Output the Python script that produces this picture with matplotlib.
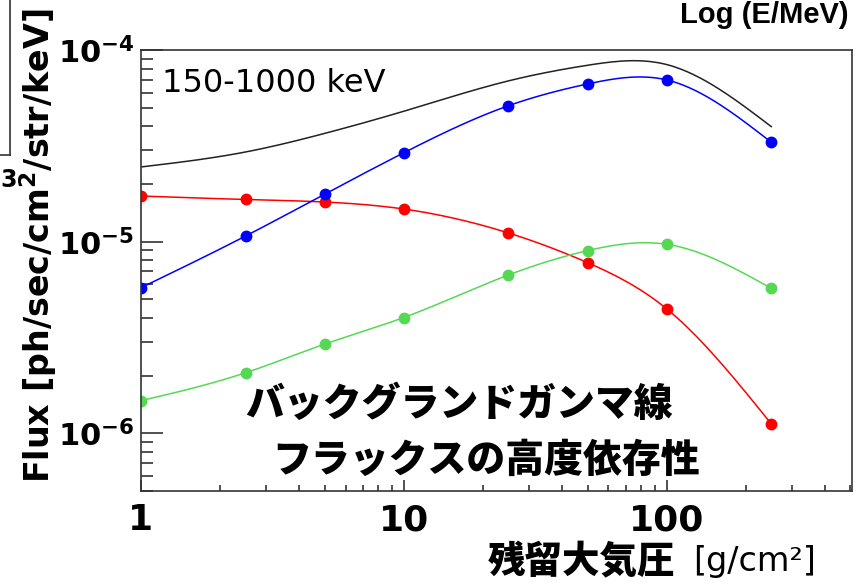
import matplotlib.pyplot as plt
import numpy as np
from matplotlib.lines import Line2D
from matplotlib.ticker import FixedLocator, FuncFormatter, LogLocator, NullFormatter

# residual atmosphere depth [g/cm2]
depth = [1, 2.5, 5, 10, 25, 50, 100, 250]

# flux components, 150-1000 keV [ph/sec/cm2/str/keV]
red_flux = [1.73e-5, 1.66e-5, 1.61e-5, 1.48e-5, 1.11e-5, 7.77e-6, 4.46e-6, 1.12e-6]
blue_flux = [5.75e-6, 1.07e-5, 1.77e-5, 2.91e-5, 5.12e-5, 6.65e-5, 6.98e-5, 3.30e-5]
green_flux = [1.48e-6, 2.07e-6, 2.92e-6, 4.02e-6, 6.70e-6, 8.98e-6, 9.69e-6, 5.71e-6]

total_flux = np.array(red_flux) + np.array(blue_flux) + np.array(green_flux)


def smooth_curve(x, y, n=300):
    # natural cubic spline through the points in log-log space
    lx, ly = np.log10(x), np.log10(y)
    k = len(lx)
    h = np.diff(lx)
    A = np.zeros((k, k))
    b = np.zeros(k)
    A[0, 0] = A[-1, -1] = 1.0
    for i in range(1, k - 1):
        A[i, i - 1] = h[i - 1]
        A[i, i] = 2 * (h[i - 1] + h[i])
        A[i, i + 1] = h[i]
        b[i] = 6 * ((ly[i + 1] - ly[i]) / h[i] - (ly[i] - ly[i - 1]) / h[i - 1])
    M = np.linalg.solve(A, b)
    xs = np.linspace(lx[0], lx[-1], n)
    idx = np.clip(np.searchsorted(lx, xs) - 1, 0, k - 2)
    x0, x1 = lx[idx], lx[idx + 1]
    hh = x1 - x0
    t0, t1 = x1 - xs, xs - x0
    ys = (M[idx] * t0**3 + M[idx + 1] * t1**3) / (6 * hh) \
        + (ly[idx] / hh - M[idx] * hh / 6) * t0 \
        + (ly[idx + 1] / hh - M[idx + 1] * hh / 6) * t1
    return 10**xs, 10**ys


fig = plt.figure(figsize=(8.62, 5.85), dpi=100)
ax = fig.add_axes([141 / 862, 1 - 491 / 585, 711 / 862, 441 / 585])

ax.plot(*smooth_curve(depth, total_flux), color='#222222', lw=1.1)
for vals, col in [(red_flux, '#ff0000'), (blue_flux, '#0000ff'), (green_flux, '#55d955')]:
    ax.plot(*smooth_curve(depth, vals), color=col, lw=1.1)
    ax.plot(depth, vals, 'o', color=col, ms=7.5, mec=col)

ax.set_xscale('log')
ax.set_yscale('log')
ax.set_xlim(1, 507)
ax.set_ylim(5.0e-7, 1e-4)

ax.xaxis.set_major_locator(FixedLocator([1, 10, 100]))
ax.xaxis.set_major_formatter(FuncFormatter(lambda v, p: f'{v:g}'))
ax.xaxis.set_minor_locator(LogLocator(base=10, subs=np.arange(2, 10)))
ax.xaxis.set_minor_formatter(NullFormatter())
ax.yaxis.set_major_locator(FixedLocator([1e-6, 1e-5, 1e-4]))
ax.yaxis.set_major_formatter(
    FuncFormatter(lambda v, p: r'$\mathbf{10^{%d}}$' % round(np.log10(v))))
ax.yaxis.set_minor_locator(LogLocator(base=10, subs=np.arange(2, 10)))
ax.yaxis.set_minor_formatter(NullFormatter())

ax.tick_params(axis='both', which='both', direction='in', width=1.2, color='#333333')
ax.tick_params(axis='y', which='major', length=15.6, pad=5, labelsize=22)
ax.tick_params(axis='y', which='minor', length=8.4)
ax.tick_params(axis='x', which='major', length=8, pad=9, labelsize=26)
ax.tick_params(axis='x', which='minor', length=4.5)
for lbl in ax.get_xticklabels():
    lbl.set_fontweight('bold')
for sp in ax.spines.values():
    sp.set_linewidth(1.2)
    sp.set_color('#333333')

ax.text(0.03, 0.96, '150-1000 keV', transform=ax.transAxes,
        fontsize=23, va='top', ha='left')

jp = ['Noto Sans CJK JP', 'DejaVu Sans']
fig.text(245 / 862, 1 - 404 / 585, 'バックグランドガンマ線', family=jp,
         fontweight='black', fontsize=28, va='center', ha='left')
fig.text(272 / 862, 1 - 460 / 585, 'フラックスの高度依存性', family=jp,
         fontweight='black', fontsize=28, va='center', ha='left')

fig.text(488 / 862, 1 - 562 / 585, '残留大気圧', family=jp, fontweight='black',
         fontsize=27, va='center', ha='left')
fig.text(693 / 862, 1 - 562 / 585, '[g/cm²]', fontsize=24, va='center', ha='left')

fig.text(38 / 862, 1 - 246 / 585, r'Flux [ph/sec/cm$^\mathbf{2}$/str/keV]',
         fontweight='bold', fontsize=24, rotation=90, va='center', ha='center')

fig.text(849 / 862, 1 - 15 / 585, 'Log (E/MeV)', family='Liberation Sans',
         fontweight='bold', fontsize=21, va='center', ha='right')

# fragment of a neighbouring frame on the left edge
fig.add_artist(Line2D([10 / 862, 10 / 862], [1, 1 - 155 / 585], color='#333333',
                      lw=1.2, transform=fig.transFigure))
fig.add_artist(Line2D([0, 10 / 862], [1 - 155 / 585, 1 - 155 / 585], color='#333333',
                      lw=1.2, transform=fig.transFigure))
fig.text(0.5 / 862, 1 - 180 / 585, '3', fontweight='bold', fontsize=17,
         va='center', ha='left')

fig.savefig('out.png', dpi=100)
